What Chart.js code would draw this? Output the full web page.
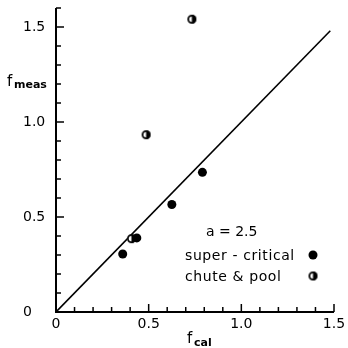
<!DOCTYPE html>
<html>
<head>
<meta charset="utf-8">
<script src="https://cdn.jsdelivr.net/npm/chart.js@4/dist/chart.umd.min.js"></script>
<style>
  html, body { margin: 0; padding: 0; background: #fff; }
  #wrap { width: 348px; height: 348px; }
</style>
</head>
<body>
<div id="wrap"><canvas id="plot" width="348" height="348"></canvas></div>
<script>
// ---- data ----
const superX = [0.36, 0.436, 0.625, 0.79];
const superY = [0.305, 0.39, 0.566, 0.735];
const chuteX = [0.407, 0.486, 0.733];
const chuteY = [0.386, 0.933, 1.541];
const lineX = [0, 1.48];
const lineY = [0, 1.48];
const xTickLabels = ['0', '0.5', '1.0', '1.5'];
const yTickLabels = ['0', '0.5', '1.0', '1.5'];
const legendText = ['super - critical', 'chute & pool'];
const paramText = 'a = 2.5';

const FONT = '"DejaVu Sans", sans-serif';

function pts(xs, ys) { return xs.map((x, i) => ({ x: x, y: ys[i] })); }

// half-filled circle marker
function halfMarker(r) {
  const c = document.createElement('canvas');
  const s = Math.ceil(r * 2 + 4);
  c.width = s; c.height = s;
  const g = c.getContext('2d');
  const m = s / 2;
  g.beginPath(); g.arc(m, m, r, 0, Math.PI * 2); g.fillStyle = '#fff'; g.fill();
  g.beginPath(); g.arc(m, m, r, -Math.PI / 2, Math.PI / 2); g.closePath(); g.fillStyle = '#000'; g.fill();
  g.beginPath(); g.arc(m, m, r - 0.9, 0, Math.PI * 2); g.lineWidth = 1.8; g.strokeStyle = '#000'; g.stroke();
  return c;
}
const halfDot = halfMarker(4.5);

function labelFor(v, list) {
  const k = Math.round(v * 10);
  if (k % 5 !== 0) return '';
  return list[k / 5] || '';
}

// axes, inward ticks, titles, legend
const decor = {
  id: 'decor',
  afterDatasetsDraw(chart) {
    const ctx = chart.ctx;
    const a = chart.chartArea;
    const xs = chart.scales.x, ys = chart.scales.y;
    ctx.save();
    ctx.strokeStyle = '#000';
    ctx.lineWidth = 2;
    ctx.beginPath();
    ctx.moveTo(a.left, a.top); ctx.lineTo(a.left, a.bottom); ctx.lineTo(a.right, a.bottom);
    ctx.stroke();

    ctx.lineWidth = 1.5;
    xs.ticks.forEach(t => {
      const px = xs.getPixelForValue(t.value);
      const len = Math.round(t.value * 10) % 5 === 0 ? 8 : 5;
      ctx.beginPath(); ctx.moveTo(px, a.bottom); ctx.lineTo(px, a.bottom - len); ctx.stroke();
    });
    ys.ticks.forEach(t => {
      const py = ys.getPixelForValue(t.value);
      const len = Math.round(t.value * 10) % 5 === 0 ? 8 : 5;
      ctx.beginPath(); ctx.moveTo(a.left, py); ctx.lineTo(a.left + len, py); ctx.stroke();
    });

    ctx.fillStyle = '#000';
    ctx.textBaseline = 'alphabetic';
    ctx.textAlign = 'left';
    // y title f_meas
    ctx.font = '15px ' + FONT;
    ctx.fillText('f', 7, 86);
    ctx.font = 'bold 11px ' + FONT;
    ctx.fillText('meas', 14, 88);
    // x title f_cal
    ctx.font = '15px ' + FONT;
    ctx.fillText('f', 187, 343);
    ctx.font = 'bold 11px ' + FONT;
    ctx.fillText('cal', 194, 346);

    // parameter + legend
    ctx.font = '14px ' + FONT;
    ctx.fillText(paramText, 206, 236);
    ctx.letterSpacing = '0.6px';
    ctx.font = '14px ' + FONT;
    ctx.fillText(legendText[0], 185, 260);
    ctx.fillText(legendText[1], 185, 281);
    ctx.beginPath(); ctx.arc(313, 255, 4.5, 0, Math.PI * 2); ctx.fill();
    ctx.drawImage(halfDot, 313 - halfDot.width / 2, 276 - halfDot.height / 2);
    ctx.restore();
  }
};

new Chart(document.getElementById('plot'), {
  type: 'scatter',
  data: {
    datasets: [
      { label: 'super', data: pts(superX, superY), pointRadius: 4.5, pointBackgroundColor: '#000', pointBorderWidth: 0 },
      { label: 'chute', data: pts(chuteX, chuteY), pointStyle: halfDot, pointRadius: 4.5 },
      { type: 'line', label: 'fit', data: pts(lineX, lineY), borderColor: '#000', borderWidth: 1.6, pointRadius: 0, fill: false }
    ]
  },
  options: {
    responsive: false,
    devicePixelRatio: 1,
    animation: false,
    layout: { padding: { left: 23, right: 14, top: 8, bottom: 0 } },
    plugins: { legend: { display: false }, tooltip: { enabled: false } },
    scales: {
      x: {
        type: 'linear', min: 0, max: 1.5,
        grid: { display: false }, border: { display: false },
        afterFit: s => { s.height = 36; s.paddingRight = 0; },
        ticks: {
          stepSize: 0.1, autoSkip: false, maxRotation: 0, padding: -4,
          color: '#000', font: { family: FONT, size: 14 },
          callback: v => labelFor(v, xTickLabels)
        }
      },
      y: {
        type: 'linear', min: 0, max: 1.6,
        grid: { display: false }, border: { display: false },
        afterFit: s => { s.width = 33; s.paddingTop = 0; s.paddingBottom = 0; },
        ticks: {
          stepSize: 0.1, autoSkip: false, crossAlign: 'far', padding: 4,
          color: '#000', font: { family: FONT, size: 14 },
          callback: v => labelFor(v, yTickLabels)
        }
      }
    }
  },
  plugins: [decor]
});
</script>
</body>
</html>
